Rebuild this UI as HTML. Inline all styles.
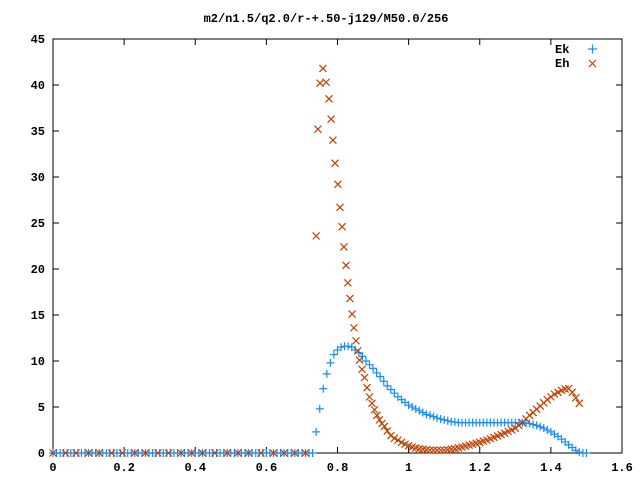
<!DOCTYPE html>
<html><head><meta charset="utf-8"><style>
body{margin:0;background:#fff;}
svg text{font-family:"Liberation Mono",monospace;font-size:12px;font-weight:bold;fill:#000;}
</style></head><body>
<svg id="chart" width="640" height="480" xmlns="http://www.w3.org/2000/svg">
<rect width="640" height="480" fill="#fff"/>
<text x="326" y="22" text-anchor="middle">m2/n1.5/q2.0/r-+.50-j129/M50.0/256</text>
<g id="axes"></g>
<g id="marks"></g>
<g>
<text x="555" y="53">Ek</text>
<text x="555" y="67">Eh</text>
<path d="M588 49h9M592.5 44.5v9" stroke="#1a8cff" stroke-width="1.2"/>
<path d="M589 60l7 7M596 60l-7 7" stroke="#c04000" stroke-width="1.2"/>
</g>
</svg>
<script>
const xTicks=[0,0.2,0.4,0.6,0.8,1,1.2,1.4,1.6];
const xTickLabels=["0","0.2","0.4","0.6","0.8","1","1.2","1.4","1.6"];
const yTicks=[0,5,10,15,20,25,30,35,40,45];
const ekX=[0,0.01,0.02,0.03,0.04,0.05,0.06,0.07,0.08,0.09,0.1,0.11,0.12,0.13,0.14,0.15,0.16,0.17,0.18,0.19,0.2,0.21,0.22,0.23,0.24,0.25,0.26,0.27,0.28,0.29,0.3,0.31,0.32,0.33,0.34,0.35,0.36,0.37,0.38,0.39,0.4,0.41,0.42,0.43,0.44,0.45,0.46,0.47,0.48,0.49,0.5,0.51,0.52,0.53,0.54,0.55,0.56,0.57,0.58,0.59,0.6,0.61,0.62,0.63,0.64,0.65,0.66,0.67,0.68,0.69,0.7,0.71,0.72,0.73,
0.74,0.75,0.76,0.77,0.78,0.79,0.8,0.81,0.82,0.83,0.84,0.85,0.86,0.87,0.88,0.89,0.9,0.91,0.92,0.93,0.94,0.95,0.96,0.97,0.98,0.99,1.0,1.01,1.02,1.03,1.04,1.05,1.06,1.07,1.08,1.09,1.1,1.11,1.12,1.13,1.14,1.15,1.16,1.17,1.18,1.19,1.2,1.21,1.22,1.23,1.24,1.25,1.26,1.27,1.28,1.29,1.3,1.31,1.32,1.33,1.34,1.35,1.36,1.37,1.38,1.39,1.4,1.41,1.42,1.43,1.44,1.45,1.46,1.47,1.48,1.49,1.5];
const ekY=[0,0,0,0,0,0,0,0,0,0,0,0,0,0,0,0,0,0,0,0,0,0,0,0,0,0,0,0,0,0,0,0,0,0,0,0,0,0,0,0,0,0,0,0,0,0,0,0,0,0,0,0,0,0,0,0,0,0,0,0,0,0,0,0,0,0,0,0,0,0,0,0,0,0,
2.3,4.8,7.0,8.6,9.8,10.7,11.2,11.5,11.6,11.6,11.5,11.2,10.9,10.5,10.0,9.6,9.2,8.7,8.3,7.8,7.3,6.9,6.5,6.1,5.8,5.5,5.2,5.0,4.8,4.6,4.4,4.2,4.1,3.95,3.8,3.7,3.6,3.5,3.4,3.35,3.3,3.3,3.3,3.3,3.3,3.3,3.3,3.3,3.3,3.3,3.3,3.3,3.3,3.3,3.3,3.3,3.3,3.3,3.3,3.25,3.2,3.1,3.0,2.85,2.7,2.5,2.3,2.05,1.8,1.5,1.2,0.9,0.6,0.3,0.1,0,0];
const ehX=[0,0.035,0.065,0.1,0.13,0.165,0.195,0.23,0.26,0.295,0.325,0.36,0.39,0.42,0.455,0.49,0.52,0.55,0.585,0.62,0.65,0.68,0.71,
0.74,0.745,0.751,0.759,0.768,0.776,0.782,0.787,0.793,0.801,0.807,0.813,0.818,0.824,0.829,0.835,0.841,0.846,0.852,0.857,0.862,0.869,0.876,0.883,0.89,0.897,0.904,0.911,0.918,0.925,0.932,0.94,0.95,0.96,0.97,0.98,0.99,1.0,1.01,1.02,1.03,1.04,1.05,1.06,1.07,1.08,1.09,1.1,1.11,1.12,1.13,1.14,1.15,1.16,1.17,1.18,1.19,1.2,1.21,1.22,1.23,1.24,1.25,1.26,1.27,1.28,1.29,1.3,1.31,1.32,1.33,1.34,1.35,1.36,1.37,1.38,1.39,1.4,1.41,1.42,1.43,1.44,1.45,1.46,1.47,1.48];
const ehY=[0,0,0,0,0,0,0,0,0,0,0,0,0,0,0,0,0,0,0,0,0,0,0,
23.6,35.2,40.2,41.8,40.3,38.5,36.3,34.0,31.5,29.2,26.7,24.6,22.4,20.4,18.5,16.8,15.1,13.6,12.2,11.1,10.1,9.1,8.2,7.1,6.1,5.4,4.7,4.1,3.6,3.2,2.9,2.4,
1.9,1.6,1.4,1.15,0.95,0.8,0.65,0.55,0.45,0.4,0.35,0.3,0.3,0.3,0.3,0.3,0.35,0.4,0.45,0.55,0.65,0.75,0.85,0.95,1.05,1.15,1.3,1.4,1.55,1.7,1.85,2.0,2.15,2.35,2.5,2.7,3.0,3.3,3.7,4.1,4.4,4.75,5.1,5.45,5.8,6.1,6.4,6.6,6.8,6.95,7.0,6.6,6.0,5.4];
const NS="http://www.w3.org/2000/svg";
const L=53,R=622,T=39,B=453;
function sx(v){return L+(v-0)/(1.6-0)*(R-L);}
function sy(v){return B-(v-0)/(45-0)*(B-T);}
const axes=document.getElementById('axes');
const marks=document.getElementById('marks');
function mk(tag,attrs,parent){const e=document.createElementNS(NS,tag);for(const k in attrs)e.setAttribute(k,attrs[k]);parent.appendChild(e);return e;}
const box=mk('rect',{x:L,y:T,width:R-L,height:B-T,fill:'none',stroke:'#000','stroke-width':1},axes);


xTicks.forEach((v,i)=>{
  const x=sx(v);
  const t=mk('path',{d:`M${x} ${B}v-6M${x} ${T}v6`,stroke:'#000'},axes);
  
  
  const lb=mk('text',{x:x,y:B+18,'text-anchor':'middle'},axes);
  lb.textContent=xTickLabels[i];
  
  
});
yTicks.forEach(v=>{
  const y=sy(v);
  const t=mk('path',{d:`M${L} ${y}h6M${R} ${y}h-6`,stroke:'#000'},axes);
  
  
  const lb=mk('text',{x:L-8,y:y+4,'text-anchor':'end'},axes);
  lb.textContent=String(v);
  
  
});
ekX.forEach((v,i)=>{
  const x=sx(v),y=sy(ekY[i]);
  const p=mk('path',{d:`M${x-4} ${y}h8M${x} ${y-4}v8`,stroke:'#1a8cff','stroke-width':1.2},marks);
  
  
});
ehX.forEach((v,i)=>{
  const x=sx(v),y=sy(ehY[i]);
  const p=mk('path',{d:`M${x-3.5} ${y-3.5}l7 7M${x+3.5} ${y-3.5}l-7 7`,stroke:'#c04000','stroke-width':1.2},marks);
  
  
});
</script>
</body></html>
